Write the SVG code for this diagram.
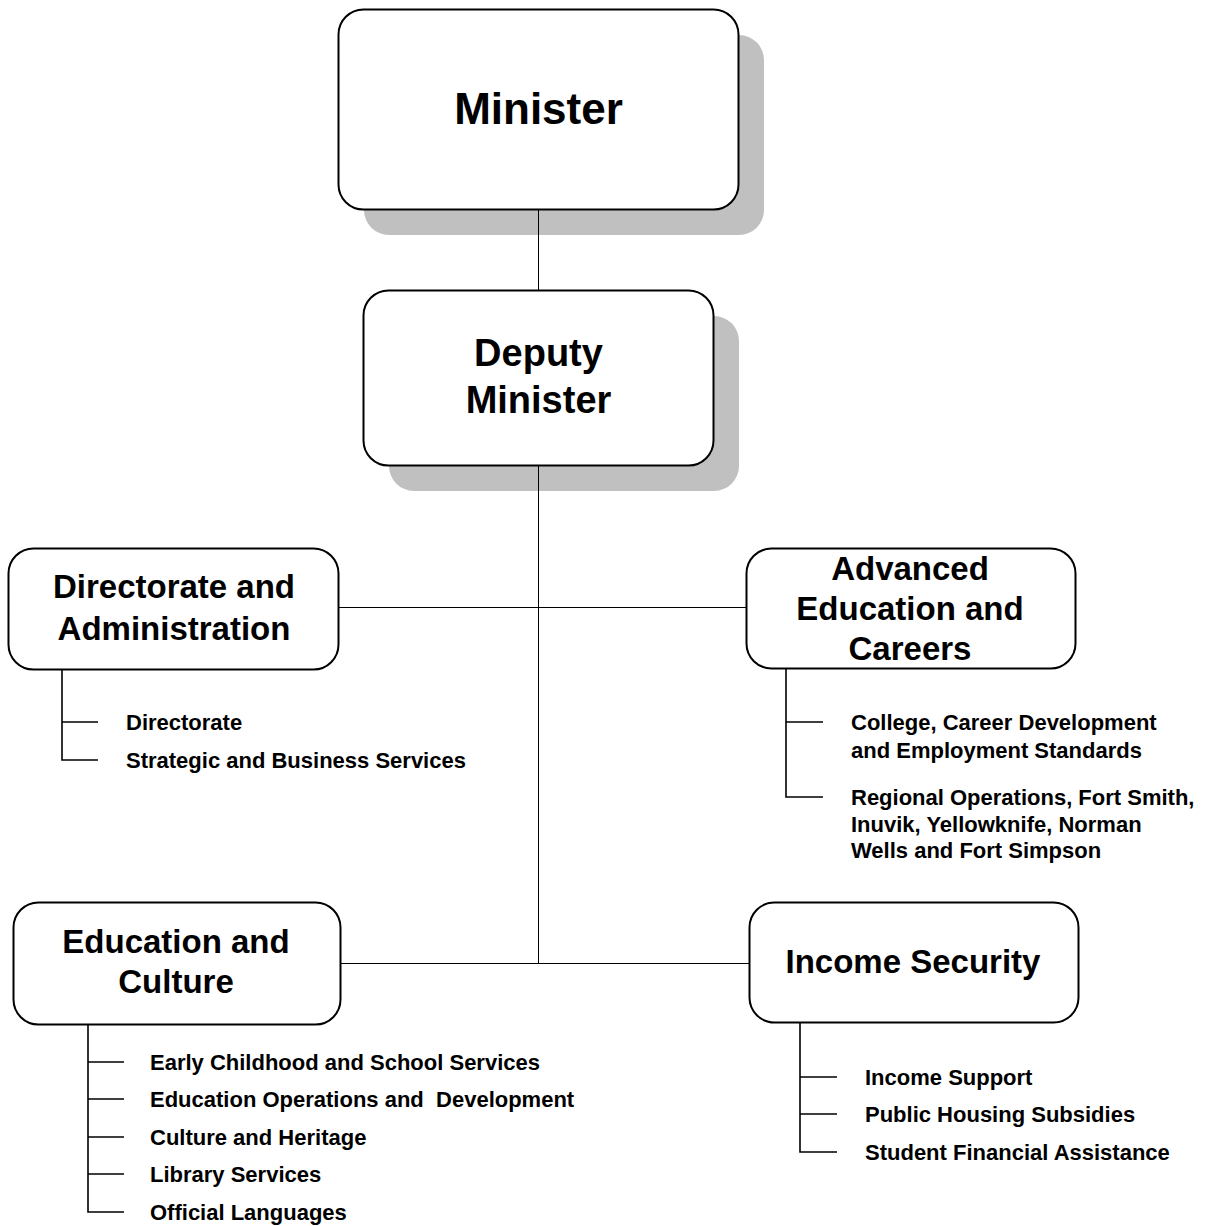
<svg xmlns="http://www.w3.org/2000/svg" width="1207" height="1226" viewBox="0 0 1207 1226">
<style>
.box{fill:#fff;stroke:#000;stroke-width:2}
.shadow{fill:#c0c0c0;stroke:none}
.conn{stroke:#000;stroke-width:1;fill:none}
.sub{stroke:#000;stroke-width:1.6;fill:none}
.h{font-family:"Liberation Sans",Arial,sans-serif;font-weight:bold;text-anchor:middle;fill:#000}
.t{font-family:"Liberation Sans",Arial,sans-serif;font-weight:bold;font-size:22px;fill:#000;white-space:pre}
</style>
<rect width="1207" height="1226" fill="#fff"/>
<g id="minister">
<rect class="shadow" x="364" y="35" width="400" height="200" rx="25"/>
<rect class="box" x="338.5" y="9.5" width="400" height="200" rx="25"/>
<text class="h" x="538.5" y="124" font-size="44">Minister</text>
</g>
<g id="deputy-minister">
<rect class="shadow" x="389" y="316" width="350" height="175" rx="25"/>
<rect class="box" x="363.5" y="290.5" width="350" height="175" rx="25"/>
<text class="h" x="538.5" y="366" font-size="38">Deputy</text>
<text class="h" x="538.5" y="413" font-size="38">Minister</text>
</g>
<g id="directorate-administration">
<rect class="box" x="8.5" y="548.5" width="330" height="121" rx="25"/>
<text class="h" x="174" y="598" font-size="33">Directorate and</text>
<text class="h" x="174" y="640" font-size="33">Administration</text>
<path class="sub" d="M62 669 V760 H98 M62 722 H98"/>
<text class="t" x="126" y="730">Directorate</text>
<text class="t" x="126" y="768">Strategic and Business Services</text>
</g>
<g id="advanced-education">
<rect class="box" x="746.5" y="548.5" width="329" height="120" rx="25"/>
<text class="h" x="910" y="580" font-size="33">Advanced</text>
<text class="h" x="910" y="620" font-size="33">Education and</text>
<text class="h" x="910" y="660" font-size="33">Careers</text>
<path class="sub" d="M786 668 V797 H823 M786 722 H823"/>
<text class="t" x="851" y="730">College, Career Development</text>
<text class="t" x="851" y="758">and Employment Standards</text>
<text class="t" x="851" y="805">Regional Operations, Fort Smith,</text>
<text class="t" x="851" y="832">Inuvik, Yellowknife, Norman</text>
<text class="t" x="851" y="858">Wells and Fort Simpson</text>
</g>
<g id="education-culture">
<rect class="box" x="13.5" y="902.5" width="327" height="122" rx="25"/>
<text class="h" x="176" y="953" font-size="33">Education and</text>
<text class="h" x="176" y="993" font-size="33">Culture</text>
<path class="sub" d="M88 1024 V1212 H124 M88 1062 H124 M88 1099 H124 M88 1137 H124 M88 1174 H124"/>
<text class="t" x="150" y="1070">Early Childhood and School Services</text>
<text class="t" x="150" y="1107" xml:space="preserve">Education Operations and  Development</text>
<text class="t" x="150" y="1145">Culture and Heritage</text>
<text class="t" x="150" y="1182">Library Services</text>
<text class="t" x="150" y="1220">Official Languages</text>
</g>
<g id="income-security">
<rect class="box" x="749.5" y="902.5" width="329" height="120" rx="25"/>
<text class="h" x="913" y="973" font-size="33">Income Security</text>
<path class="sub" d="M800 1022 V1152 H837 M800 1077 H837 M800 1114 H837"/>
<text class="t" x="865" y="1085">Income Support</text>
<text class="t" x="865" y="1122">Public Housing Subsidies</text>
<text class="t" x="865" y="1160">Student Financial Assistance</text>
</g>
<g id="connectors">
<line class="conn" x1="538.5" y1="210" x2="538.5" y2="290"/>
<line class="conn" x1="538.5" y1="466" x2="538.5" y2="963.5"/>
<line class="conn" x1="339" y1="607.5" x2="746" y2="607.5"/>
<line class="conn" x1="341" y1="963.5" x2="749" y2="963.5"/>
</g>
</svg>
